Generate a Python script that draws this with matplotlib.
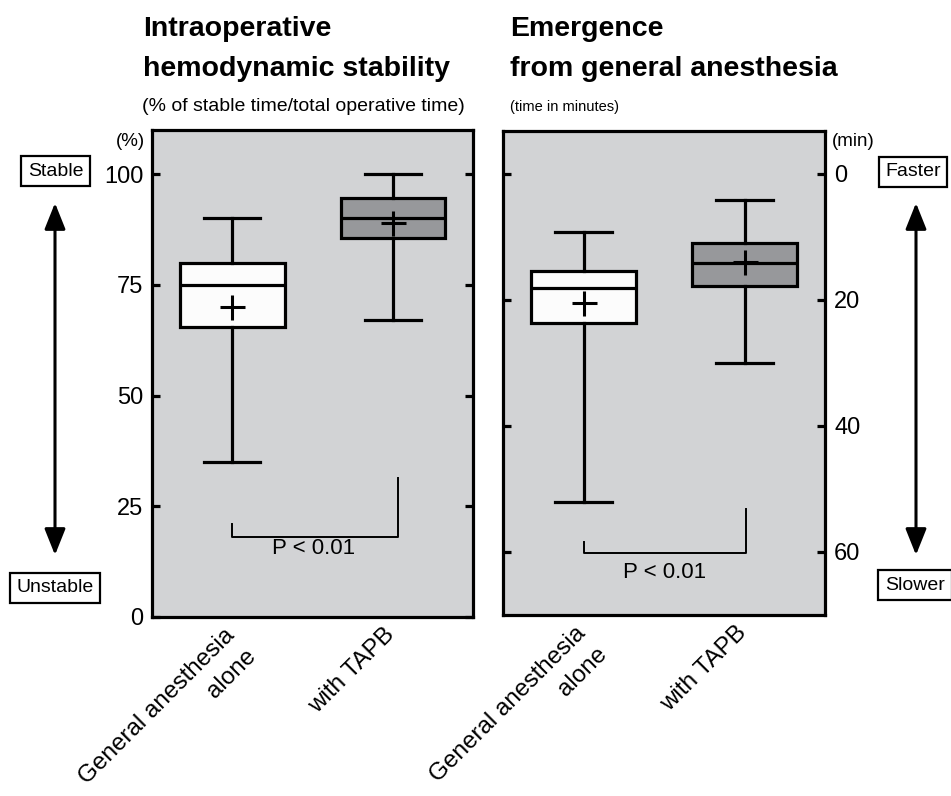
import matplotlib
matplotlib.use("Agg")
import matplotlib.pyplot as plt
import matplotlib.transforms as mtransforms

plt.rcParams['font.family'] = ['Liberation Sans', 'DejaVu Sans']

categories = ["General anesthesia\nalone", "with TAPB"]

# Intraoperative hemodynamic stability (%)
stab_whislo = [35, 67]
stab_q1 = [65.5, 85.5]
stab_med = [75, 90]
stab_q3 = [80, 94.5]
stab_whishi = [90, 100]
stab_mean = [70, 89]

# Emergence time (min)
emer_whislo = [9.2, 4.1]
emer_q1 = [15.4, 11.0]
emer_med = [18.1, 14.1]
emer_q3 = [23.7, 17.8]
emer_whishi = [52, 30]
emer_mean = [20.5, 14.0]

box_colors = ["#fcfcfc", "#97989b"]
bg = "#d2d3d5"
LW = 2.3
XFS = 17.5

fig = plt.figure(figsize=(9.51, 7.96), dpi=100)
ax1 = fig.add_axes([0.160, 0.2249, 0.3375, 0.612])
ax2 = fig.add_axes([0.529, 0.2274, 0.3386, 0.608])


def make_stats(lo, q1, med, q3, hi, mean):
    return [dict(whislo=lo[i], q1=q1[i], med=med[i], q3=q3[i], whishi=hi[i],
                 mean=mean[i], fliers=[], label=categories[i]) for i in range(len(lo))]


def draw(ax, stats):
    ax.set_facecolor(bg)
    bp = ax.bxp(stats, positions=[1, 2], widths=0.65, capwidths=0.35,
                showmeans=True, patch_artist=True, showfliers=False,
                boxprops=dict(linewidth=LW, edgecolor='black'),
                medianprops=dict(color='black', linewidth=LW),
                whiskerprops=dict(color='black', linewidth=LW),
                capprops=dict(color='black', linewidth=LW),
                meanprops=dict(marker='+', markersize=18, markeredgewidth=2.2,
                               markeredgecolor='black'))
    for patch, c in zip(bp['boxes'], box_colors):
        patch.set_facecolor(c)
    for s in ax.spines.values():
        s.set_linewidth(LW)
    ax.set_xlim(0.5, 2.5)
    ax.tick_params(axis='y', direction='in', length=6, width=LW, labelsize=17,
                   left=True, right=True, pad=6.5)
    ax.tick_params(axis='x', length=0, labelsize=XFS, pad=5)
    # first line of each category as tick label, further lines as extra text
    first = [c.split("\n")[0] for c in categories]
    ax.set_xticks([1, 2], labels=first)
    shift = mtransforms.ScaledTranslation(-9 / 100, 0, fig.dpi_scale_trans)
    for lab in ax.get_xticklabels():
        lab.set_rotation(45)
        lab.set_ha('right')
        lab.set_va('top')
        lab.set_rotation_mode('anchor')
        lab.set_transform(lab.get_transform() + shift)
    line_off = 21  # px per extra line, along the down-right diagonal
    for pos, c in zip([1, 2], categories):
        for k, extra in enumerate(c.split("\n")[1:], start=1):
            tr = ax.get_xaxis_transform() + mtransforms.ScaledTranslation(
                (-9 + line_off * k) / 100, (-5 * 100 / 72 - line_off * k) / 100,
                fig.dpi_scale_trans)
            ax.text(pos, 0, extra, transform=tr, rotation=45, ha='right', va='top',
                    rotation_mode='anchor', fontsize=XFS, clip_on=False)


draw(ax1, make_stats(stab_whislo, stab_q1, stab_med, stab_q3, stab_whishi, stab_mean))
ax1.set_ylim(0, 110)
ax1.set_yticks([0, 25, 50, 75, 100])
ax1.tick_params(axis='y', labelleft=True, labelright=False)
ax1.plot([1, 1, 2.03, 2.03], [21, 18, 18, 31.4], color='black', lw=1.4)
ax1.text(1.506, 15.5, "P < 0.01", ha='center', va='center', fontsize=16)

draw(ax2, make_stats(emer_whislo, emer_q1, emer_med, emer_q3, emer_whishi, emer_mean))
ax2.set_ylim(70, -6.8)
ax2.set_yticks([0, 20, 40, 60])
ax2.tick_params(axis='y', labelleft=False, labelright=True)
ax2.plot([1, 1, 2.01, 2.01], [58.4, 60.2, 60.2, 53.2], color='black', lw=1.4)
ax2.text(1.5, 63.3, "P < 0.01", ha='center', va='center', fontsize=16)


def ftxt(x, y, s, **kw):
    fig.text(x / 951, 1 - y / 796, s, **kw)

# Unit labels
ftxt(145, 141, "(%)", fontsize=13.5, ha='right', va='center')
ftxt(832, 141, "(min)", fontsize=13.5, ha='left', va='center')

# Titles
ftxt(143, 36, "Intraoperative", fontsize=20.5, fontweight='bold', va='baseline', ha='left')
ftxt(143, 76, "hemodynamic stability", fontsize=20.5, fontweight='bold', va='baseline', ha='left')
ftxt(142, 111, "(% of stable time/total operative time)", fontsize=14, va='baseline', ha='left')
ftxt(510, 36, "Emergence", fontsize=20.5, fontweight='bold', va='baseline', ha='left')
ftxt(510, 76, "from general anesthesia", fontsize=20.5, fontweight='bold', va='baseline', ha='left')
ftxt(510, 111, "(time in minutes)", fontsize=10.5, va='baseline', ha='left')

# Side annotations
bb = dict(boxstyle='square,pad=0.34', facecolor='white', edgecolor='black', linewidth=1.6)
ftxt(55.5, 171, "Stable", fontsize=14, ha='center', va='center', bbox=bb)
ftxt(55, 588, "Unstable", fontsize=14, ha='center', va='center', bbox=bb)
ftxt(913, 172, "Faster", fontsize=14, ha='center', va='center', bbox=bb)
ftxt(915, 585, "Slower", fontsize=14, ha='center', va='center', bbox=bb)

for x in (55, 916):
    fig.add_artist(matplotlib.patches.FancyArrowPatch(
        (x / 951, 1 - 203 / 796), (x / 951, 1 - 555 / 796),
        transform=fig.transFigure,
        arrowstyle='<|-|>,head_length=0.8,head_width=0.32', mutation_scale=20,
        shrinkA=0, shrinkB=0, color='black', linewidth=2.2))

fig.savefig("out.png", dpi=100)
